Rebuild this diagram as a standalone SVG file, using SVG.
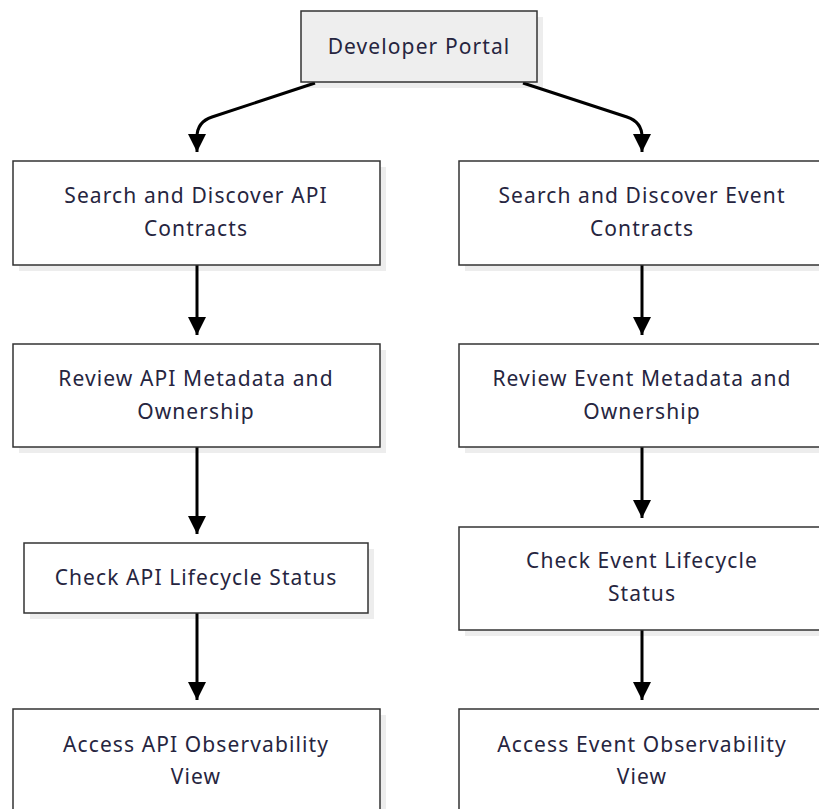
<svg xmlns="http://www.w3.org/2000/svg" width="819" height="809" viewBox="0 0 819 809">
  <defs>
    <marker id="arrow" viewBox="0 0 10 10" refX="10" refY="5" markerWidth="6" markerHeight="6" markerUnits="strokeWidth" orient="auto">
      <path d="M0,0 L10,5 L0,10 z" fill="#000"/>
    </marker>
  </defs>
  <style>
    .box { fill: #ffffff; stroke: #333333; stroke-width: 1.5; }
    .root { fill: #eeeeee; }
    .shadow { fill: #000000; opacity: 0.07; }
    .label { font-family: "Noto Sans", "DejaVu Sans", sans-serif; font-size: 21px; letter-spacing: 1.1px; fill: #262540; text-anchor: middle; }
    .edge { fill: none; stroke: #000000; stroke-width: 3; marker-end: url(#arrow); }
  </style>
  <rect width="819" height="809" fill="#ffffff"/>

  <g id="connectors">
    <path class="edge" d="M315,83 L212,117 Q197,122 197,137 L197,152"/>
    <path class="edge" d="M523,83 L627,117 Q642,122 642,137 L642,152"/>
    <path class="edge" d="M197,265 L197,335"/>
    <path class="edge" d="M197,447 L197,534"/>
    <path class="edge" d="M197,613 L197,700"/>
    <path class="edge" d="M642,265 L642,335"/>
    <path class="edge" d="M642,447 L642,518"/>
    <path class="edge" d="M642,630 L642,700"/>
  </g>

  <g id="developer-portal">
    <rect class="shadow" x="307" y="17" width="236" height="71"/>
    <rect class="box root" x="301" y="11" width="236" height="71"/>
    <text class="label" x="419" y="54">Developer Portal</text>
  </g>

  <g id="search-api">
    <rect class="shadow" x="19" y="167" width="367" height="104"/>
    <rect class="box" x="13" y="161" width="367" height="104"/>
    <text class="label" x="196" y="203">Search and Discover API</text>
    <text class="label" x="196" y="236">Contracts</text>
  </g>

  <g id="search-event">
    <rect class="shadow" x="465" y="167" width="367" height="104"/>
    <rect class="box" x="459" y="161" width="367" height="104"/>
    <text class="label" x="642" y="203">Search and Discover Event</text>
    <text class="label" x="642" y="236">Contracts</text>
  </g>

  <g id="review-api">
    <rect class="shadow" x="19" y="350" width="367" height="103"/>
    <rect class="box" x="13" y="344" width="367" height="103"/>
    <text class="label" x="196" y="386">Review API Metadata and</text>
    <text class="label" x="196" y="419">Ownership</text>
  </g>

  <g id="review-event">
    <rect class="shadow" x="465" y="350" width="367" height="103"/>
    <rect class="box" x="459" y="344" width="367" height="103"/>
    <text class="label" x="642" y="386">Review Event Metadata and</text>
    <text class="label" x="642" y="419">Ownership</text>
  </g>

  <g id="lifecycle-api">
    <rect class="shadow" x="30" y="549" width="344" height="70"/>
    <rect class="box" x="24" y="543" width="344" height="70"/>
    <text class="label" x="196" y="585">Check API Lifecycle Status</text>
  </g>

  <g id="lifecycle-event">
    <rect class="shadow" x="465" y="533" width="367" height="103"/>
    <rect class="box" x="459" y="527" width="367" height="103"/>
    <text class="label" x="642" y="568">Check Event Lifecycle</text>
    <text class="label" x="642" y="601">Status</text>
  </g>

  <g id="observability-api">
    <rect class="shadow" x="19" y="715" width="367" height="103"/>
    <rect class="box" x="13" y="709" width="367" height="103"/>
    <text class="label" x="196" y="752">Access API Observability</text>
    <text class="label" x="196" y="784">View</text>
  </g>

  <g id="observability-event">
    <rect class="shadow" x="465" y="715" width="367" height="103"/>
    <rect class="box" x="459" y="709" width="367" height="103"/>
    <text class="label" x="642" y="752">Access Event Observability</text>
    <text class="label" x="642" y="784">View</text>
  </g>
</svg>
